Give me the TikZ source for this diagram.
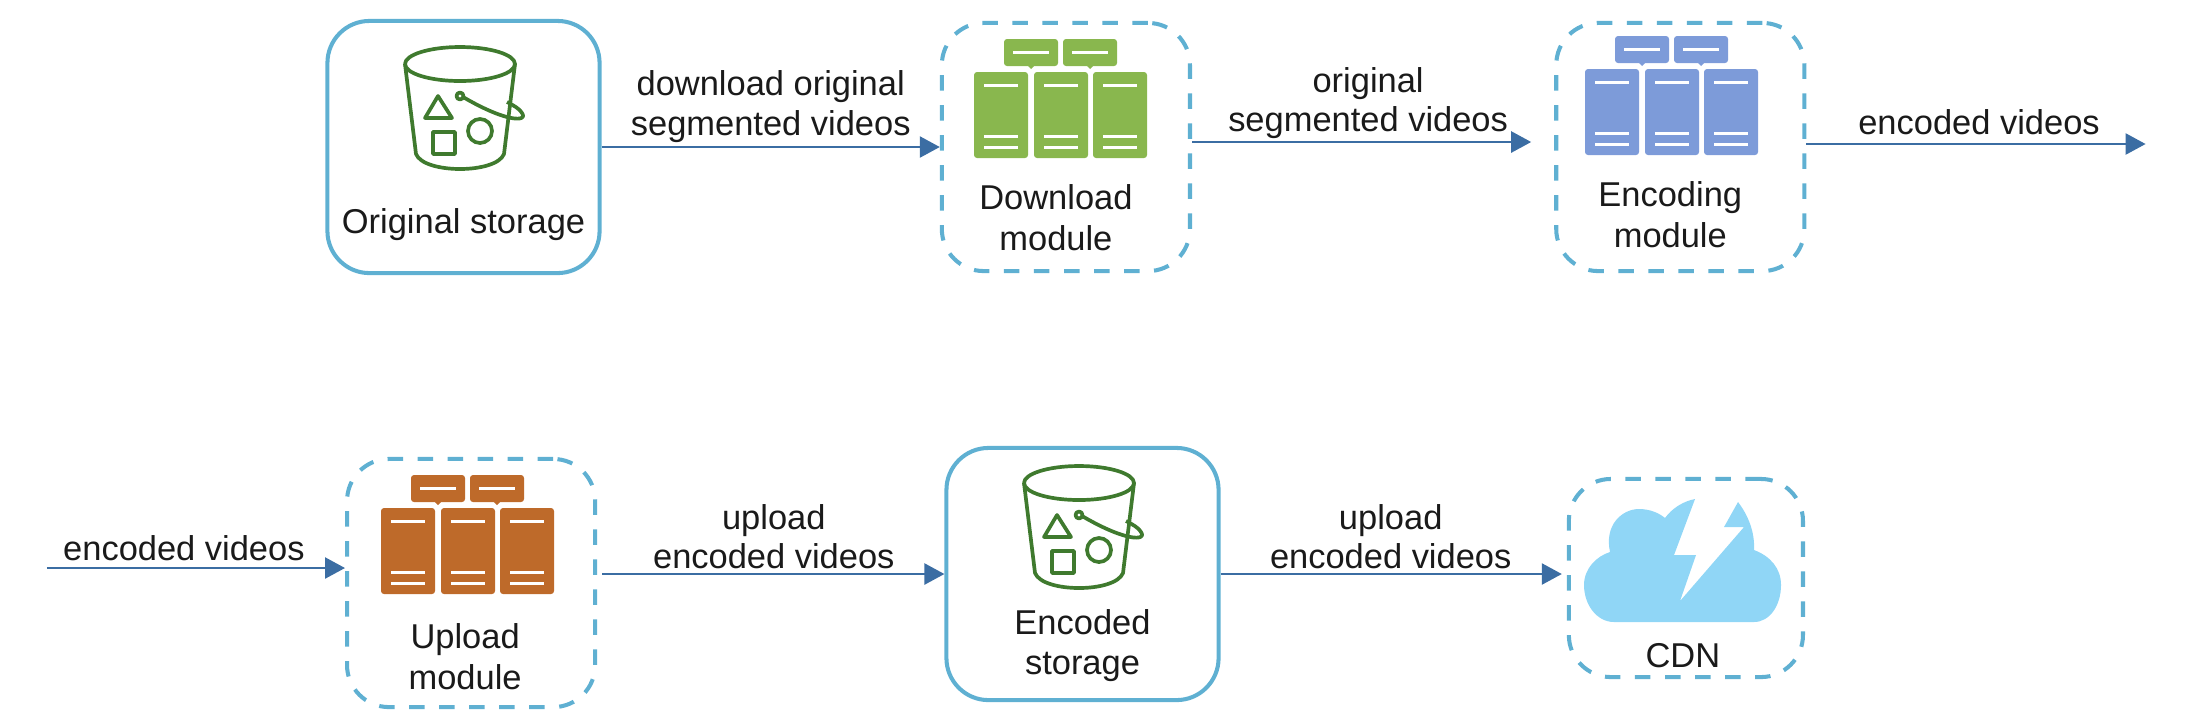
\documentclass[tikz,border=0pt]{standalone}
\usepackage{fontspec}
\setmainfont{Liberation Sans}
\usepackage{tikz}
\usetikzlibrary{arrows.meta,positioning,calc}

\definecolor{boxblue}{HTML}{5FB0D2}
\definecolor{flowblue}{HTML}{3B6DA3}
\definecolor{bucketgreen}{HTML}{3F7A2E}
\definecolor{servergreen}{HTML}{89B74E}
\definecolor{serverblue}{HTML}{7D9BD9}
\definecolor{serverorange}{HTML}{BE6A2A}
\definecolor{cloudblue}{HTML}{90D6F6}
\definecolor{textblack}{HTML}{1A1A1A}

\tikzset{
  storebox/.style={draw=boxblue,line width=1.15pt,rounded corners=0.42cm,minimum width=2.72cm,minimum height=2.52cm},
  modulebox/.style={draw=boxblue,line width=1.15pt,rounded corners=0.42cm,dash pattern=on 0.155cm off 0.145cm,minimum width=2.48cm,minimum height=2.48cm},
  flow/.style={draw=flowblue,line width=0.7pt,-{Triangle[length=0.2cm,width=0.21cm]}},
  boxtext/.style={text=textblack,align=center,inner sep=0pt,font=\fontsize{9.8}{11.4}\selectfont},
  flowtext/.style={text=textblack,align=center,inner sep=0pt,font=\fontsize{9.8}{11.2}\selectfont},
  bucketline/.style={draw=bucketgreen,line width=1.05pt,line join=round},
  rackline/.style={draw=white,line width=0.85pt}
}

% one bucket, drawn round the current origin
\newcommand{\bucketicon}{
  \draw[bucketline] (0,-43) ellipse (55 and 17);
  \draw[bucketline] (-55,-43) -- (-44,47) .. controls (-36,67) and (36,67) .. (44,47) -- (55,-43);
  \draw[bucketline] (-22,-11) -- (-35,11) -- (-8,11) -- cycle;
  \draw[bucketline] (-27,25) rectangle (-5,47);
  \draw[bucketline] (20,24) circle (12);
  \draw[bucketline] (0,-11) circle (3.5);
  \draw[bucketline] (3,-10) .. controls (15,-3) and (32,6) .. (47,10) .. controls (58,13) and (66,12) .. (62,6) .. controls (60,2) and (53,-2) .. (47,-5);
}

% one rack of three servers, #1 is the colour
\newcommand{\servericon}[1]{
  \foreach \topx in {-56,3}{
    \fill[#1,rounded corners=0.03cm] (\topx,-76) rectangle ++(54,27);
    \fill[#1] (\topx+23,-50) -- (\topx+31,-50) -- (\topx+27,-46) -- cycle;
    \draw[rackline] (\topx+9,-63) -- ++(36,0);
  }
  \foreach \rackx in {-86,-26,33}{
    \fill[#1,rounded corners=0.03cm] (\rackx,-43) rectangle ++(54,86);
    \draw[rackline] (\rackx+10,-30) -- ++(34,0);
    \draw[rackline] (\rackx+10,21) -- ++(34,0);
    \draw[rackline] (\rackx+10,32) -- ++(34,0);
  }
}

\begin{document}
\begin{tikzpicture}[x=0.01cm,y=-0.01cm]
  \useasboundingbox (0,0) rectangle (2210,726);

  % first row
  \node[storebox] (orig) at (463.5,147) {};
  \node[modulebox,right=3.38cm of orig] (down) {};
  \node[modulebox,right=3.62cm of down] (encode) {};
  \coordinate[right=3.39cm of encode,yshift=0.03cm] (encout);

  % second row
  \node[storebox] (store) at (1082.5,574) {};
  \node[modulebox,left=3.47cm of store,yshift=-0.09cm] (up) {};
  \node[modulebox,minimum width=2.34cm,minimum height=1.98cm,right=3.46cm of store,yshift=-0.04cm] (cdn) {};
  \coordinate[left=2.98cm of up.west,yshift=0.15cm] (upin);

  % texts in the boxes
  \node[boxtext,above=0.34cm of orig.south] (origtext) {Original storage};
  \node[boxtext,above=0.22cm of down.south,xshift=-0.1cm] (downtext) {Download\\module};
  \node[boxtext,above=0.25cm of encode.south,xshift=-0.1cm] (encodetext) {Encoding\\module};
  \node[boxtext,above=0.19cm of up.south,xshift=-0.06cm] (uptext) {Upload\\module};
  \node[boxtext,above=0.2cm of store.south] (storetext) {Encoded\\storage};
  \node[boxtext,above=0.11cm of cdn.south,xshift=-0.03cm] (cdntext) {CDN};

  % icons
  \begin{scope}[shift={(460,107)}]
    \bucketicon
  \end{scope}
  \begin{scope}[shift={(1060,115)}]
    \servericon{servergreen}
  \end{scope}
  \begin{scope}[shift={(1671,112)}]
    \servericon{serverblue}
  \end{scope}
  \begin{scope}[shift={(467,551)}]
    \servericon{serverorange}
  \end{scope}
  \begin{scope}[shift={(1079,526)}]
    \bucketicon
  \end{scope}
  \begin{scope}[shift={(1682,560)}]
    \fill[cloudblue] (-68,62) .. controls (-85,62) and (-98,45) .. (-98,25)
      .. controls (-98,8) and (-85,-4) .. (-72,-8)
      .. controls (-78,-35) and (-60,-51) .. (-43,-51)
      .. controls (-32,-51) and (-23,-47) .. (-17,-42)
      .. controls (-10,-52) and (2,-59) .. (13,-61)
      -- (-8,-5) -- (14,-5) -- (-2,41) -- (62,-33) -- (42,-33) -- (56,-58)
      .. controls (66,-45) and (73,-28) .. (72,-10)
      .. controls (88,-4) and (99,8) .. (99,25)
      .. controls (99,45) and (88,62) .. (72,62) -- cycle;
  \end{scope}

  % connectors
  \draw[flow] (orig.east) -- (down.west);
  \draw[flow] ([yshift=0.05cm]down.east) -- ([yshift=0.05cm,xshift=-0.23cm]encode.west);
  \draw[flow] ([yshift=0.03cm]encode.east) -- (encout);
  \draw[flow] (upin) -- (upin -| up.west);
  \draw[flow] ([xshift=0.05cm]up.east |- store.west) -- (store.west);
  \draw[flow,shorten >=0.05cm] (store.east) -- (store.east -| cdn.west);

  % texts on the connectors
  \node[flowtext,above=0.04cm of {$(orig.east)!.5!(down.west)$}] (downflow) {download original\\segmented videos};
  \node[flowtext,above=0.075cm of {$(down.east)!.5!(encode.west)$},xshift=-0.05cm] (encodeflow) {original\\segmented videos};
  \node[flowtext,above=0.1cm of {$(encode.east)!.5!(encout)$},xshift=0.03cm] (outflow) {encoded videos};
  \node[flowtext,above=0.06cm of upin,xshift=1.37cm] (inflow) {encoded videos};
  \node[flowtext,above=0.09cm of {$(up.east)!.5!(store.west)$},xshift=0.03cm] (upflow) {upload\\encoded videos};
  \node[flowtext,above=0.06cm of {$(store.east)!.5!(cdn.west)$},xshift=-0.03cm] (cdnflow) {upload\\encoded videos};
\end{tikzpicture}
\end{document}
